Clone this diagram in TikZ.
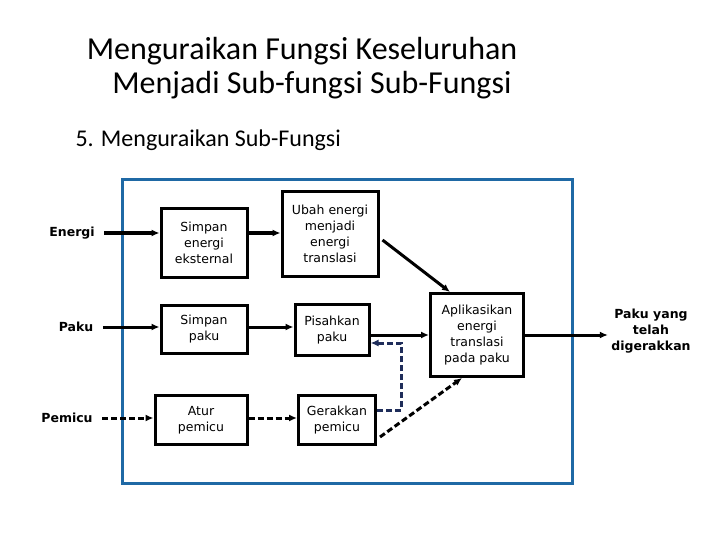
\documentclass[tikz,border=0pt]{standalone}
\usepackage{fontspec}
\setmainfont{Carlito}
\newfontfamily\boxfont{DejaVu Sans}
\usetikzlibrary{arrows.meta}
\begin{document}
\begin{tikzpicture}[x=1pt,y=-1pt,
  blk/.style={draw,line width=3pt,fill=white,align=center,font=\boxfont\fontsize{12.5}{16}\selectfont,inner sep=0pt},
  lbl/.style={font=\boxfont\bfseries\fontsize{12.5}{16}\selectfont,align=center},
  arr/.style={line width=3pt,-{Latex[length=8pt,width=7pt]}},
  darr/.style={arr,dash pattern=on 6pt off 3pt}]
\useasboundingbox (0,0) rectangle (720,540);
\node[anchor=base] (t1) at (302,60) {\fontsize{32}{36}\selectfont Menguraikan Fungsi Keseluruhan};
\node[anchor=base] (t2) at (312,94) {\fontsize{32}{36}\selectfont Menjadi Sub-fungsi Sub-Fungsi};
\node[anchor=base west] (t3) at (72,147) {\fontsize{24}{28}\selectfont 5. Menguraikan Sub-Fungsi};
\draw[line width=3pt,draw={rgb,255:red,31;green,105;blue,165}] (122,180) rectangle (572,483);
\node[blk,minimum width=86pt,minimum height=68pt] (a) at (204,243) {Simpan\\energi\\eksternal};
\node[blk,minimum width=96pt,minimum height=84pt] (b) at (330,234) {Ubah energi\\menjadi\\energi\\translasi};
\node[blk,minimum width=86pt,minimum height=48pt] (c) at (204,329) {Simpan\\paku};
\node[blk,minimum width=74pt,minimum height=51pt] (d) at (332,330) {Pisahkan\\paku};
\node[blk,minimum width=93pt,minimum height=83pt] (e) at (477,335) {Aplikasikan\\energi\\translasi\\pada paku};
\node[blk,minimum width=92pt,minimum height=49pt] (f) at (201,420) {Atur\\pemicu};
\node[blk,minimum width=77pt,minimum height=49pt] (g) at (337,420) {Gerakkan\\pemicu};
\node[lbl] (in1) at (72,233) {Energi};
\node[lbl] (in2) at (76,327) {Paku};
\node[lbl] (in3) at (67,418) {Pemicu};
\node[lbl] (out) at (651,331) {Paku yang\\telah\\digerakkan};
\draw[arr] (in1.east)+(6,0) coordinate (s1) -- (a.west|-s1);
\draw[arr] (a.east|-s1) -- (b.west|-s1);
\draw[arr] (in2.east)+(6,0) coordinate (s2) -- (c.west|-s2);
\draw[arr] (c.east|-s2) -- (d.west|-s2);
\draw[arr] (d.east|-e.west) -- (e.west);
\draw[arr] (e.east) -- (out.west|-e.east);
\draw[arr] (b.east)+(3,6) coordinate (s4) -- (450,292);
\draw[darr] (in3.east)+(6,0) coordinate (s3) -- (f.west|-s3);
\draw[darr] (f.east|-s3) -- (g.west|-s3);
\draw[darr] (g.east)+(3,17) coordinate (s5) -- (462,378);
\coordinate (k1) at (401,410);
\coordinate (k2) at (401,343);
\draw[darr,draw={rgb,255:red,31;green,45;blue,90}] (g.east|-k1) -- (k1) -- (k2) -- (d.east|-k2);
\end{tikzpicture}
\end{document}
